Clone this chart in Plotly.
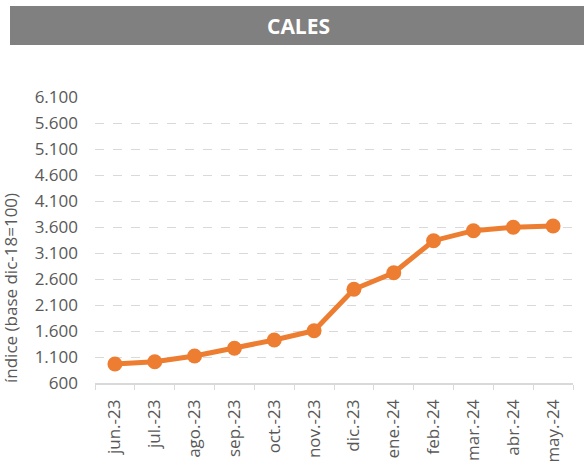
import plotly.graph_objects as go

meses = ["jun.-23", "jul.-23", "ago.-23", "sep.-23", "oct.-23", "nov.-23",
         "dic.-23", "ene.-24", "feb.-24", "mar.-24", "abr.-24", "may.-24"]
indice = [965, 1010, 1119, 1267, 1427, 1606, 2402, 2721, 3337, 3529, 3594, 3619]

naranja = "#ED7D31"
gris_txt = "#595959"

fig = go.Figure()
fig.add_trace(go.Scatter(x=meses, y=indice, mode="lines+markers",
                         line=dict(color=naranja, width=5),
                         marker=dict(color=naranja, size=15),
                         hoverinfo="x+y"))

# plot area: x 95..573, y 97..383 (px)
def px_x(p):
    return (p - 95) / 478

def px_y(p):
    return (383 - p) / 286

# barra del titulo
fig.add_shape(type="rect", xref="paper", yref="paper",
              x0=px_x(10), x1=px_x(590), y0=px_y(45), y1=px_y(6),
              fillcolor="#808080", line=dict(width=0), layer="above")
fig.add_annotation(text="<b>CALES</b>", xref="paper", yref="paper",
                   x=px_x(298), y=px_y(26),
                   xanchor="center", yanchor="middle", showarrow=False,
                   font=dict(family="Open Sans", size=21, color="white"))
# titulo eje y
fig.add_annotation(text="índice (base dic-18=100)", xref="paper", yref="paper",
                   x=px_x(10), y=px_y(288), textangle=-90,
                   xanchor="center", yanchor="middle", showarrow=False,
                   font=dict(family="Open Sans", size=17, color=gris_txt))

fig.update_layout(
    width=584, height=462,
    margin=dict(l=95, r=11, t=97, b=79),
    plot_bgcolor="white", paper_bgcolor="white",
    separators=",.",
    showlegend=False,
    font=dict(family="Open Sans", size=17, color=gris_txt),
)
fig.update_xaxes(range=[-0.5, len(meses) - 0.5],
                 showgrid=False, showline=True, linecolor="#d9d9d9", linewidth=1.5,
                 ticks="outside", tickson="boundaries", ticklen=5, tickcolor="#d9d9d9",
                 tickangle=-90, automargin=False, ticklabelstandoff=8,
                 tickfont=dict(size=17, color=gris_txt))
fig.update_yaxes(range=[600, 6100], tick0=600, dtick=500, tickformat=",d",
                 showgrid=True, gridcolor="#d9d9d9", griddash="dash", gridwidth=1,
                 zeroline=False, showline=False, ticks="", ticklabelstandoff=16,
                 automargin=False,
                 tickfont=dict(size=17, color=gris_txt))

fig.write_html("out.html", config={"displayModeBar": False},
               post_script="document.body.style.margin='0px';")
